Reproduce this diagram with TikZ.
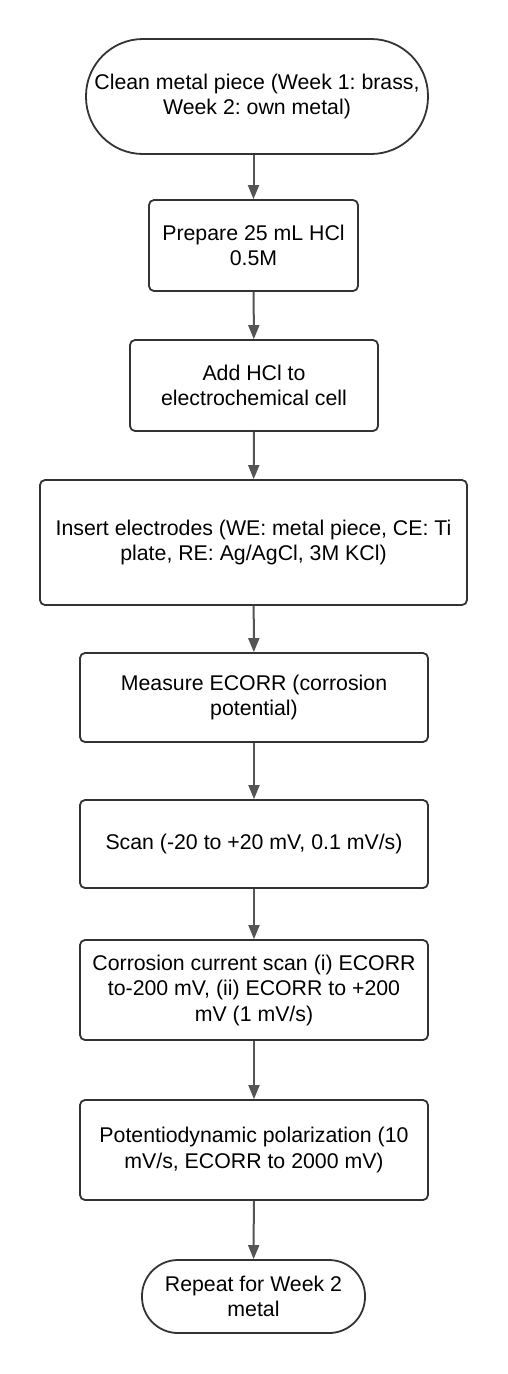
\documentclass[tikz,border=0pt]{standalone}
\usepackage{fontspec}
\setmainfont{Liberation Sans}
\frenchspacing
\usetikzlibrary{arrows.meta}
\definecolor{edgecol}{HTML}{333333}
\definecolor{arrcol}{HTML}{555555}
\begin{document}
\begin{tikzpicture}[x=1pt,y=-1pt,
  box/.style={draw=edgecol, line width=1.8pt, rounded corners=5pt, align=center,
    font=\fontsize{21.3}{25.5}\selectfont\frenchspacing, inner sep=0pt, fill=white},
  term/.style={box, rounded corners=#1},
  arr/.style={draw=arrcol, line width=2pt, -{Triangle[length=14pt,width=11pt]}}]
\useasboundingbox (0,0) rectangle (508,1374);

\node[term=57pt, minimum width=342pt, minimum height=115pt] (n1) at (257,96.5)
  {Clean metal piece (Week 1: brass,\\Week 2: own metal)};
\node[box, minimum width=209pt, minimum height=91pt] (n2) at (253.5,245.5)
  {Prepare 25 mL HCl\\0.5M};
\node[box, minimum width=248pt, minimum height=91pt] (n3) at (254,385.5)
  {Add HCl to\\electrochemical cell};
\node[box, minimum width=427pt, minimum height=125pt] (n4) at (253.5,542.5)
  {Insert electrodes (WE: metal piece, CE: Ti\\plate, RE: Ag/AgCl, 3M KCl)};
\node[box, minimum width=348pt, minimum height=89pt] (n5) at (254,697.5)
  {Measure ECORR (corrosion\\potential)};
\node[box, minimum width=348pt, minimum height=88pt] (n6) at (254,844)
  {Scan (-20 to +20 mV, 0.1 mV/s)};
\node[box, minimum width=348pt, minimum height=100pt] (n7) at (254,990)
  {Corrosion current scan (i) ECORR\\to-200 mV, (ii) ECORR to +200\\mV (1 mV/s)};
\node[box, minimum width=348pt, minimum height=100pt] (n8) at (254,1150)
  {Potentiodynamic polarization (10\\mV/s, ECORR to 2000 mV)};
\node[term=36pt, minimum width=223pt, minimum height=73pt] (n9) at (253.5,1296.5)
  {Repeat for Week 2\\metal};

\draw[arr] (n2.north |- n1.south) -- (n2.north);
\draw[arr] (n2) -- (n3);
\draw[arr] (n3) -- (n4);
\draw[arr] (n4) -- (n5);
\draw[arr] (n5) -- (n6);
\draw[arr] (n6) -- (n7);
\draw[arr] (n7) -- (n8);
\draw[arr] (n8) -- (n9);
\end{tikzpicture}
\end{document}
